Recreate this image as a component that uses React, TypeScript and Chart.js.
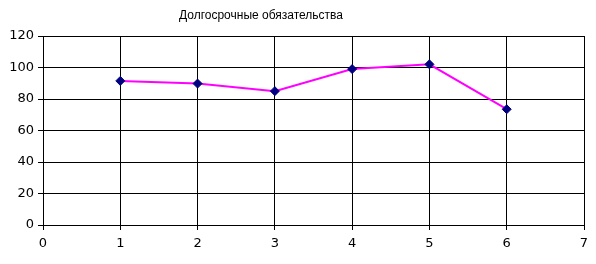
import React, { useEffect, useRef } from "react";
import { Chart, registerables } from "chart.js";

Chart.register(...registerables);

const title = "Долгосрочные обязательства";
const xValues = [1, 2, 3, 4, 5, 6];
const yValues = [91.5, 89.8, 85, 99, 102, 73.5];
const xTicksMin = 0;
const xTicksMax = 7;
const yTicksMin = 0;
const yTicksMax = 120;
const yStep = 20;

const titlePlugin = {
  id: "customTitle",
  afterDraw(chart: any) {
    const ctx = chart.ctx;
    ctx.save();
    ctx.font = "12px 'Liberation Sans', Arial, sans-serif";
    ctx.fillStyle = "#000";
    ctx.textAlign = "center";
    ctx.textBaseline = "middle";
    ctx.fillText(title, 261, 16);
    ctx.restore();
  },
};

export default function App() {
  const ref = useRef<HTMLCanvasElement>(null);
  useEffect(() => {
    document.body.style.margin = "0";
    const c = ref.current!;
    const chart = new Chart(c, {
      type: "line",
      data: {
        datasets: [
          {
            data: xValues.map((x, i) => ({ x, y: yValues[i] })),
            borderColor: "#FF00FF",
            borderWidth: 2,
            pointStyle: "rectRot",
            pointRadius: 4.5,
            pointBackgroundColor: "#000080",
            pointBorderColor: "#000080",
            pointBorderWidth: 1,
            tension: 0,
          },
        ],
      },
      options: {
        animation: false,
        responsive: false,
        maintainAspectRatio: false,
        layout: { padding: { top: 36, right: 12, left: 0, bottom: 0 } },
        plugins: { legend: { display: false }, title: { display: false }, tooltip: { enabled: false } },
        scales: {
          x: {
            type: "linear",
            min: xTicksMin,
            max: xTicksMax,
            ticks: {
              stepSize: 1,
              color: "#000",
              padding: 6,
              font: { family: "'DejaVu Sans'", size: 13 },
            },
            grid: { color: "#000", lineWidth: 1, tickLength: 5, tickColor: "#000" },
            border: { color: "#000", width: 1 },
            afterFit: (s: any) => {
              s.height = 39;
            },
          },
          y: {
            min: yTicksMin,
            max: yTicksMax,
            ticks: {
              stepSize: yStep,
              color: "#000",
              padding: 4,
              font: { family: "'DejaVu Sans'", size: 13 },
            },
            grid: { color: "#000", lineWidth: 1, tickLength: 5, tickColor: "#000" },
            border: { color: "#000", width: 1 },
            afterFit: (s: any) => {
              s.width = 43;
            },
          },
        },
      },
      plugins: [titlePlugin],
    });
    return () => chart.destroy();
  }, []);
  return (
    <div style={{ width: 596, height: 264, background: "#fff" }}>
      <canvas ref={ref} width={596} height={264} style={{ display: "block" }} />
    </div>
  );
}
